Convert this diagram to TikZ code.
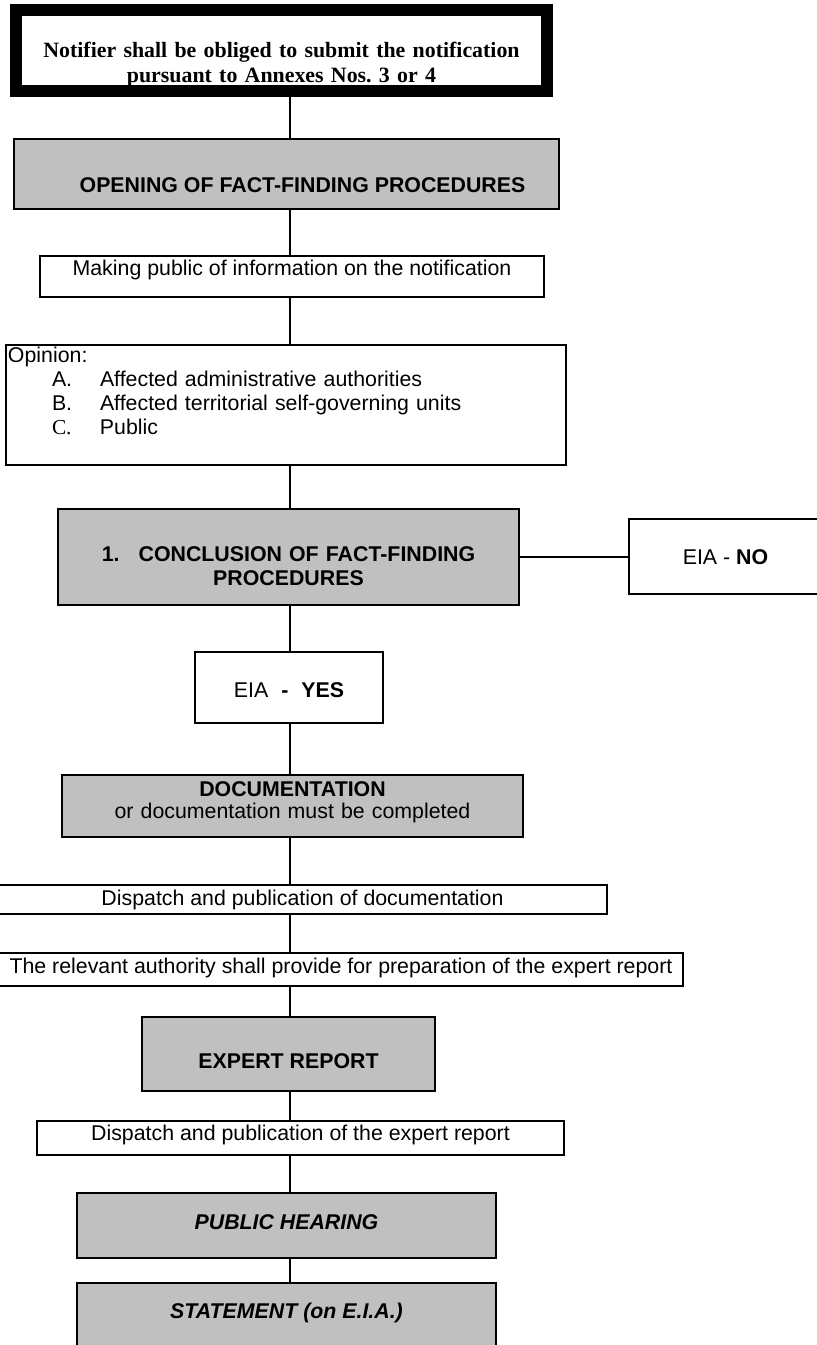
\documentclass[tikz,border=0pt]{standalone}
\usepackage{fontspec}
\setmainfont{Liberation Serif}
\setsansfont{Liberation Sans}
\usepackage{xcolor}
\usepackage{tikz}
\frenchspacing

\definecolor{boxgrey}{HTML}{C0C0C0}

\tikzset{
    stagebox/.style={draw, line width=1.1pt, outer sep=0pt, inner xsep=0pt, inner ysep=0pt,
        anchor=north west, fill=white, font=\sffamily\fontsize{12pt}{13.5pt}\selectfont},
    greystage/.style={stagebox, fill=boxgrey, font=\sffamily\bfseries\fontsize{12pt}{13.5pt}\selectfont},
    link/.style={line width=0.85pt},
}

\begin{document}
\begin{tikzpicture}[x=0.5625pt, y=-0.5625pt]
    \useasboundingbox (0,0) rectangle (816,1345);
    \coordinate (spine) at (290,0);

    % Notification (thick frame)
    \node[stagebox, line width=6.75pt, text width=298.69pt, align=center, text height=26.44pt, text depth=19.13pt,
        font=\rmfamily\bfseries\fontsize{12.3pt}{14.06pt}\selectfont] (notif) at (16,10)
        {Notifier shall be obliged to submit the notification\\pursuant to Annexes Nos. 3 or 4};

    % Fact-finding procedures
    \node[greystage, minimum width=306.56pt, text height=30.15pt, text depth=9.2pt] (opening) at (14,139)
        {\hspace*{18pt}OPENING OF FACT-FINDING PROCEDURES};
    \node[stagebox, minimum width=283.5pt, text height=10.97pt, text depth=12.09pt] (making) at (40,256)
        {Making public of information on the notification};
    \node[stagebox, inner xsep=1.125pt, text width=312.75pt, align=left, text height=9.9pt, text depth=57.6pt] (opinion) at (6,345)
        {Opinion:\\
         \hspace*{24.75pt}\makebox[27pt][l]{A.}Affected administrative authorities\\
         \hspace*{24.75pt}\makebox[27pt][l]{B.}Affected territorial self-governing units\\
         \hspace*{24.75pt}\makebox[27pt][l]{\rmfamily C.}Public};
    \node[greystage, text width=259.31pt, align=center, text height=29.6pt, text depth=24.4pt] (conclusion) at (58,509)
        {1.\hspace{10.7pt}CONCLUSION OF FACT-FINDING\\PROCEDURES};

    % Outcome
    \node[stagebox, minimum width=108.56pt, text height=25.65pt, text depth=16.54pt] (eiano) at (629,519)
        {EIA - \textbf{NO}};
    \node[stagebox, minimum width=105.75pt, text height=25.65pt, text depth=14.29pt] (eiayes) at (195,652)
        {EIA\hspace{7.3pt}\textbf{-}\hspace{7.3pt}\textbf{YES}};

    % Documentation and expert report
    \node[greystage, text width=259.31pt, align=center, text height=12.15pt, text depth=22.7pt] (doc) at (62,775)
        {DOCUMENTATION\\[-1.125pt]\mdseries or documentation must be completed};
    \node[stagebox, minimum width=342.56pt, text height=11.59pt, text depth=4.73pt] (dispdoc) at (-2,885)
        {Dispatch and publication of documentation};
    \node[stagebox, minimum width=384.75pt, text height=11.59pt, text depth=6.98pt] (authority) at (-1,953)
        {The relevant authority shall provide for preparation of the expert report};
    \node[greystage, minimum width=164.81pt, text height=29.03pt, text depth=12.6pt] (expert) at (142,1017)
        {EXPERT REPORT};
    \node[stagebox, minimum width=296.44pt, text height=11.03pt, text depth=8.1pt] (dispexp) at (37,1121)
        {Dispatch and publication of the expert report};

    % Hearing and statement
    \node[greystage, minimum width=235.69pt, text height=20.59pt, text depth=15.98pt] (hearing) at (77,1193)
        {\itshape PUBLIC HEARING};
    \node[greystage, minimum width=235.69pt, text height=20.03pt, text depth=26.1pt] (statement) at (77,1283)
        {\itshape STATEMENT (on E.I.A.)};

    % Connectors
    \draw[link] (spine |- notif.south) -- (spine |- opening.north);
    \draw[link] (spine |- opening.south) -- (spine |- making.north);
    \draw[link] (spine |- making.south) -- (spine |- opinion.north);
    \draw[link] (spine |- opinion.south) -- (spine |- conclusion.north);
    \draw[link] (conclusion.east) -- (conclusion.east -| eiano.west);
    \draw[link] (spine |- conclusion.south) -- (spine |- eiayes.north);
    \draw[link] (spine |- eiayes.south) -- (spine |- doc.north);
    \draw[link] (spine |- doc.south) -- (spine |- dispdoc.north);
    \draw[link] (spine |- dispdoc.south) -- (spine |- authority.north);
    \draw[link] (spine |- authority.south) -- (spine |- expert.north);
    \draw[link] (spine |- expert.south) -- (spine |- dispexp.north);
    \draw[link] (spine |- dispexp.south) -- (spine |- hearing.north);
    \draw[link] (spine |- hearing.south) -- (spine |- statement.north);
\end{tikzpicture}
\end{document}
